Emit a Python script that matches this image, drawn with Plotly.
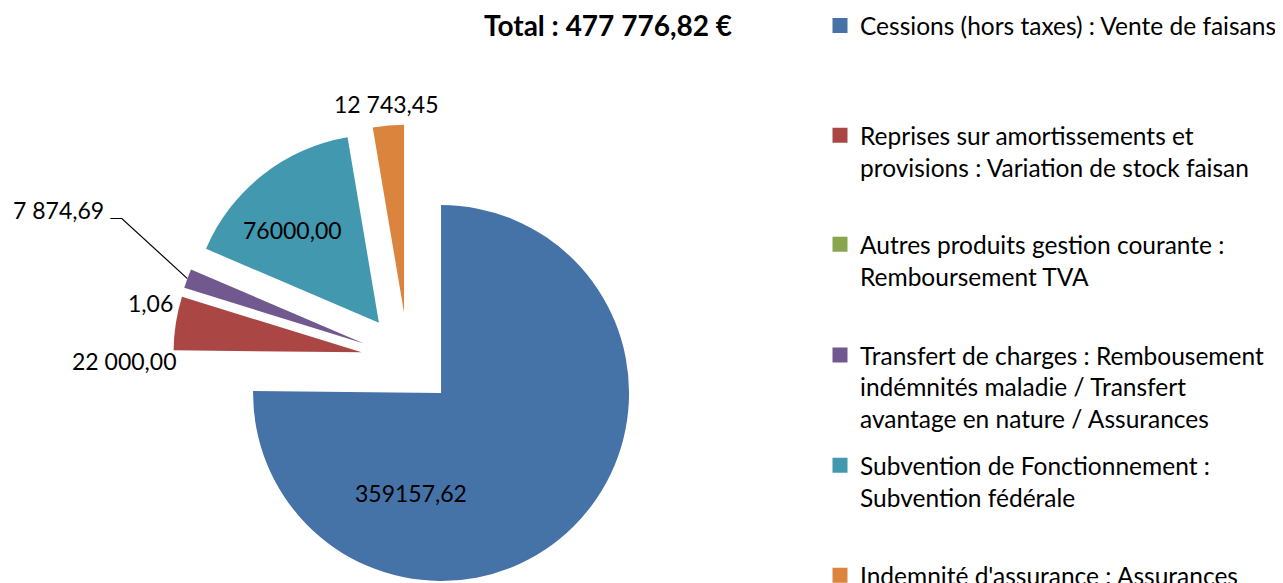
import math
import plotly.graph_objects as go

# ---------------- data ----------------
categories = [
    "Cessions (hors taxes) : Vente de faisans",
    "Reprises sur amortissements et<br>provisions : Variation de stock faisan",
    "Autres produits gestion courante :<br>Remboursement TVA",
    "Transfert de charges : Rembousement<br>indémnités maladie / Transfert<br>avantage en nature / Assurances",
    "Subvention de Fonctionnement :<br>Subvention fédérale",
    "Indemnité d'assurance : Assurances",
]
values = [359157.62, 22000.00, 1.06, 7874.69, 76000.00, 12743.45]
value_labels = ["359157,62", "22 000,00", "1,06", "7 874,69", "76000,00", "12 743,45"]
total_label = "Total : 477 776,82 €"

colors = ["#4572A7", "#AA4643", "#89A54E", "#71588F", "#4198AF", "#DB843D"]

# ---------------- layout / style ----------------
W, H = 1283, 600
FONT = "Lato"
pull = 0.25
pie_box = 470                 # px, square domain of the pie
cx, cy = 400, 351.6           # px, pie centre (figure coords, y down)
r = pie_box / 2 / (1 + pull)  # slice radius used by plotly

# data-label anchor positions (px, figure coords) – styling only
label_pos = [(403, 485), (116.7, 353), (142.5, 295), (50.3, 201.5), (284.5, 221.5), (378, 96)]
label_fs = 23

dom_x = [(cx - pie_box / 2) / W, (cx + pie_box / 2) / W]
dom_y = [(H - cy - pie_box / 2) / H, (H - cy + pie_box / 2) / H]

fig = go.Figure()
fig.add_trace(go.Pie(
    labels=[c.replace("<br>", " ") for c in categories],
    values=values,
    textinfo="none",
    sort=False,
    direction="clockwise",
    rotation=0,
    pull=pull,
    marker=dict(colors=colors, line=dict(width=0)),
    domain=dict(x=dom_x, y=dom_y),
    showlegend=False,
    hoverinfo="skip",
))

# leader line for the small purple slice (from its outer edge to the label)
total = sum(values)
cum = sum(values[:3])
mid = (cum + values[3] / 2) / total * 2 * math.pi
ux, uy = math.sin(mid), -math.cos(mid)
tip = (cx + (pull * r + r) * ux, cy + (pull * r + r) * uy)
lab = label_pos[3]
fig.add_trace(go.Scatter(
    x=[lab[0] + 52, lab[0] + 63.5, tip[0]],
    y=[lab[1] + 9, lab[1] + 9, tip[1]],
    mode="lines", line=dict(color="black", width=1.2),
    showlegend=False, hoverinfo="skip",
))

# legend entries (one legend per entry so spacing matches the original)
cap_centres = [26.3, 136, 245, 355.7, 466, 576]   # picture px
OFF = 8
leg_fs = 24.5
L = 1.3 * leg_fs
layout_legends = {}
for i, (name, col) in enumerate(zip(categories, colors)):
    key = "legend" if i == 0 else f"legend{i + 1}"
    fig.add_trace(go.Scatter(
        x=[None], y=[None], mode="markers",
        marker=dict(symbol="square", size=15, color=col),
        name=name, legend=key, showlegend=True, hoverinfo="skip",
    ))
    baseline = cap_centres[i] + 0.36 * leg_fs - OFF
    top = baseline - (6.5 + 0.8 * L)
    layout_legends[key] = dict(
        x=812 / W, xanchor="left", y=1 - top / H, yanchor="top",
        valign="top", bgcolor="rgba(0,0,0,0)", borderwidth=0,
        font=dict(family=FONT, size=leg_fs, color="black"),
        itemclick=False, itemdoubleclick=False,
    )

annotations = [dict(
    text=f"<b>{total_label}</b>", x=599.5, y=16.5,
    xref="x", yref="y", xanchor="center", yanchor="middle",
    showarrow=False, font=dict(family=FONT, size=28, color="black"),
)]
for txt, (lx, ly) in zip(value_labels, label_pos):
    annotations.append(dict(
        text=txt, x=lx, y=ly, xref="x", yref="y",
        xanchor="center", yanchor="middle", showarrow=False,
        font=dict(family=FONT, size=label_fs, color="black"),
    ))

fig.update_layout(
    width=W, height=H, autosize=False,
    margin=dict(l=0, r=0, t=0, b=0, autoexpand=False),
    paper_bgcolor="white", plot_bgcolor="white",
    xaxis=dict(visible=False, range=[0, W], fixedrange=True),
    yaxis=dict(visible=False, range=[H, 0], fixedrange=True),
    font=dict(family=FONT, color="black"),
    annotations=annotations,
    **layout_legends,
)

fig.write_html("out.html")
